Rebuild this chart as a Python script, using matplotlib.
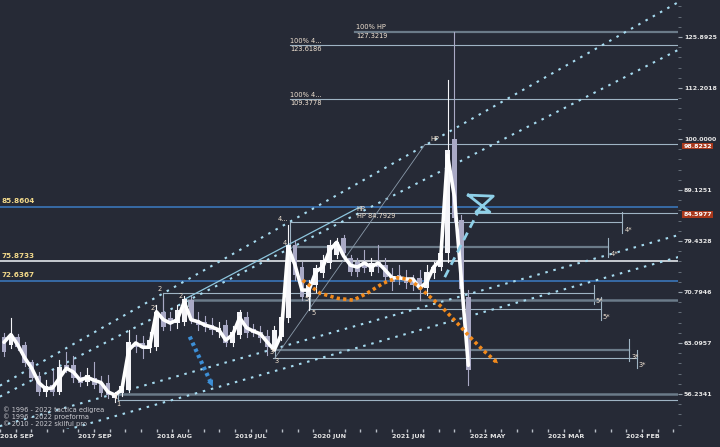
import numpy as np
import matplotlib.pyplot as plt
from matplotlib.ticker import FixedLocator, NullFormatter
from matplotlib.transforms import blended_transform_factory

# monthly bars, 2016 sep .. 2022 apr (index = bar number)
opens = [64.0, 62.8, 64.0, 62.8, 60.5, 58.6, 56.5, 57.4, 56.5, 60.0,
         60.0, 58.4, 57.8, 58.3, 57.7, 57.7, 55.7, 56.4, 56.8, 63.1,
         63.1, 62.4, 62.5, 67.7, 66.8, 66.0, 66.2, 69.5, 66.5, 66.2,
         65.7, 64.7, 65.7, 63.1, 64.3, 66.9, 65.1, 64.7, 64.1, 62.5,
         64.0, 66.8, 78.7, 74.9, 70.0, 71.9, 73.9, 75.6, 77.0, 80.0,
         76.4, 75.7, 75.7, 74.1, 75.7, 75.2, 73.1, 73.6, 73.1, 72.7,
         73.1, 71.4, 73.9, 74.9, 77.3, 100.0, 83.3, 70.0]
closes = [61.8, 64.4, 62.5, 60.3, 58.3, 56.5, 57.3, 56.5, 59.8, 59.6,
          58.3, 57.7, 58.7, 57.4, 56.4, 56.1, 56.2, 57.3, 63.2, 62.5,
          62.4, 63.5, 67.7, 65.4, 65.9, 68.0, 69.7, 66.5, 65.7, 65.4,
          65.0, 65.3, 63.1, 64.7, 67.7, 64.5, 64.5, 63.8, 62.5, 65.0,
          66.9, 78.7, 73.6, 70.0, 71.9, 74.7, 76.1, 78.7, 79.2, 77.3,
          74.1, 74.1, 74.7, 75.6, 74.9, 73.2, 72.4, 73.1, 72.2, 71.9,
          71.6, 74.1, 74.9, 77.3, 97.6, 83.7, 71.3, 59.4]
highs = [64.5, 66.8, 64.4, 63.2, 60.7, 59.1, 58.0, 59.4, 60.7, 61.8,
         61.3, 59.1, 59.6, 60.5, 58.6, 58.7, 56.5, 58.0, 65.0, 64.3,
         64.1, 64.7, 68.7, 69.8, 67.7, 68.7, 70.2, 70.2, 67.7, 67.1,
         66.8, 66.2, 66.5, 65.6, 68.0, 67.7, 65.9, 65.6, 65.0, 65.6,
         67.4, 82.4, 79.6, 75.7, 72.7, 75.2, 77.0, 79.6, 80.0, 80.5,
         77.0, 76.4, 77.8, 76.4, 78.7, 76.4, 74.7, 75.2, 74.4, 73.6,
         74.4, 75.2, 75.7, 77.8, 114.2, 127.3, 84.2, 71.1]
lows = [61.3, 62.4, 62.1, 59.9, 58.0, 56.1, 56.0, 56.1, 56.2, 59.1,
        57.8, 57.3, 57.4, 57.0, 56.0, 55.7, 55.2, 56.0, 56.5, 61.8,
        61.0, 61.8, 62.1, 65.0, 65.0, 65.3, 65.7, 66.0, 65.0, 64.8,
        64.4, 64.0, 62.7, 62.7, 63.8, 64.0, 64.1, 63.2, 61.4, 62.1,
        63.5, 66.2, 72.7, 69.5, 68.0, 70.8, 73.2, 74.7, 76.4, 76.8,
        73.6, 73.4, 74.1, 73.6, 74.1, 72.4, 71.1, 72.1, 71.4, 71.1,
        69.5, 70.3, 73.1, 74.4, 75.7, 82.9, 70.8, 57.4]
# white smoothed line
ma_line = [63.2, 64.3, 62.8, 61.0, 59.6, 57.7, 56.9, 57.0, 58.3, 59.6,
           59.1, 58.0, 58.4, 58.0, 57.7, 56.5, 56.1, 56.8, 62.1, 63.1,
           62.5, 62.5, 67.7, 66.5, 66.0, 66.5, 69.2, 66.5, 66.2, 65.7,
           65.4, 65.0, 63.5, 64.3, 66.8, 65.3, 64.8, 64.4, 63.2, 62.1,
           64.3, 78.4, 75.2, 71.1, 71.1, 74.1, 74.9, 77.8, 79.2, 76.8,
           75.2, 74.9, 75.6, 74.9, 75.6, 74.4, 73.1, 73.1, 72.9, 72.9,
           71.4, 72.4, 74.9, 76.1, 96.4, 87.7, 72.7, 60.0]

price_ticks = [56.2341, 63.0957, 70.7946, 79.4328, 89.1251, 100.0, 112.2018, 125.8925]
date_labels = ["2016 SEP", "2017 SEP", "2018 AUG", "2019 JUL", "2020 JUN",
               "2021 JUN", "2022 MAY", "2023 MAR", "2024 FEB"]

# drawn levels
full_blue = [85.8604, 72.6367]
full_white = [75.8733]
hp_levels = [127.3219, 123.6186, 109.3778, 98.8232, 84.5977]
hp_starts = [50.65, 41.3, 41.3, 60.75, 50.9]
wave_levels = [82.9, 78.4, 70.6, 68.1, 62.1, 61.0]
wave_starts = [41.3, 41.7, 22.9, 44.2, 39.4, 38.8]
wave_ends = [89.2, 87.2, 85.1, 86.1, 90.2, 91.3]
wave_marks = ["4*", "4*", "5*", "5*", "3*", "3*"]
wave_tick_top = [84.8, 80.0, 71.9, 70.0, 63.6, 62.1]
wave_tick_bot = [80.9, 76.6, 68.9, 66.5, 60.6, 59.6]
base_levels = [69.5, 56.2341, 55.5]
base_starts = [26.6, 16.5, 16.5]

channel_x = [-0.6, 97.3]
channels = [(57.3, 136.2), (55.9, 122.3), (52.3, 80.5), (49.7, 76.6)]

wave_text = ["4...", "4", "2", "2", "2'", "5", "5", "3'", "3", "1", "1"]
wave_tx = [40.3, 40.5, 22.5, 25.5, 21.6, 43.6, 44.6, 38.7, 39.4, 16.0, 16.5]
wave_ty = [83.5, 79.1, 71.3, 70.2, 68.3, 69.7, 67.5, 61.8, 60.6, 55.8, 55.0]

orange_x = [43.1, 45.6, 48.1, 50.4, 52.4, 54.7, 56.7, 58.2, 59.6, 61.5, 63.3, 65.4, 67.2, 69.1, 71.0]
orange_y = [72.7, 70.6, 69.8, 69.5, 70.6, 72.2, 73.1, 72.9, 71.9, 70.0, 68.3, 66.0, 64.0, 62.1, 60.5]
blue_arrow_x = [26.8, 30.0]
blue_arrow_y = [64.0, 57.4]
cyan_x = [63.6, 68.7]
cyan_y = [73.2, 85.6]
glass_x = [67.0, 70.6, 68.1, 70.1, 67.0]
glass_y = [88.1, 87.9, 84.8, 84.8, 88.1]

bg = '#262a36'
fig = plt.figure(figsize=(7.2, 4.47), dpi=100, facecolor=bg)
ax = fig.add_axes([0, 18 / 447, 678 / 720, 429 / 447], facecolor=bg)
ax.set_yscale('log')
x0, x1 = -0.58, 97.26
ax.set_xlim(x0, x1)
ax.set_ylim(51.96, 136.87)
for s in ax.spines.values():
    s.set_visible(False)

thin = '#9fb4c4'
thick = '#6b7b89'

# channel lines
for a, b in channels:
    ax.plot(channel_x, [a, b], color='#a6dbf0', lw=1.5, ls=(0, (1.2, 2.8)), zorder=2)

# horizontal levels
for v in full_blue:
    ax.axhline(v, color='#3b7cc4', lw=1.1, zorder=1)
for v in full_white:
    ax.axhline(v, color='#f2f6fa', lw=1.1, zorder=1)
for v, s in zip(hp_levels, hp_starts):
    c, w = (thick, 1.6) if v > 125 else (thin, 0.8)
    ax.plot([s, x1], [v, v], color=c, lw=w, zorder=1)
for v, s, e, t, b in zip(wave_levels, wave_starts, wave_ends, wave_tick_top, wave_tick_bot):
    c, w = (thick, 1.6) if v in (78.4, 62.1) else (thin, 0.8)
    ax.plot([s, e], [v, v], color=c, lw=w, zorder=1)
    ax.plot([e, e], [t, b], color=thin, lw=0.8, zorder=1)
for v, s in zip(base_levels, base_starts):
    c, w = (thin, 0.8) if v == 55.5 else (thick, 1.8)
    ax.plot([s, x1], [v, v], color=c, lw=w, zorder=1)
for m, e, v in zip(wave_marks, wave_ends, wave_levels):
    ax.text(e + 0.3, v * 0.99, m, color='#f0e2d2', fontsize=4.8, ha='left', va='top', zorder=6)

# little connectors at wave points
ax.plot([41.3, 41.3], [82.9, 78.4], color=thin, lw=0.8)
ax.plot([22.9, 22.9], [70.6, 67.7], color=thin, lw=0.8)
ax.plot([26.6, 26.6], [69.5, 68.6], color=thin, lw=0.8)
ax.plot([44.2, 44.2], [70.8, 68.1], color=thin, lw=0.8)
ax.plot([39.1, 39.1], [62.1, 61.0], color=thin, lw=0.8)
ax.plot([16.5, 16.5], [56.23, 55.5], color=thin, lw=0.8)

# fan lines
ax.plot([25.8, 51.4], [69.5, 85.8], color='#8ec6de', lw=0.9, zorder=2)
ax.plot([39.1, 60.75], [61.0, 98.8], color='#8a9aaa', lw=0.6, zorder=2)

# candles
idx = np.arange(len(opens))
for i in idx:
    o, c, h, l = opens[i], closes[i], highs[i], lows[i]
    col = '#f4f4f8' if c >= o else '#a9a9c5'
    ax.plot([i, i], [l, h], color=col, lw=0.8, zorder=3)
    ax.bar(i, abs(c - o), bottom=min(o, c), width=0.7, color=col, lw=0, zorder=3)

ax.plot(idx, ma_line, color='white', lw=2.6, solid_joinstyle='round', solid_capstyle='round', zorder=4)

# hand drawn marks
ax.plot(orange_x, orange_y, color='#f28a1c', lw=2.6, ls=(0, (0.9, 0.9)), zorder=5)
ax.annotate('', xy=(orange_x[-1] + 0.6, orange_y[-1] * 0.992), xytext=(orange_x[-2], orange_y[-2]),
            arrowprops=dict(arrowstyle='-|>', color='#f28a1c', lw=0, mutation_scale=9), zorder=5)
ax.plot(blue_arrow_x, blue_arrow_y, color='#3d8fd6', lw=3, ls=(0, (0.8, 0.8)), zorder=5)
ax.annotate('', xy=(blue_arrow_x[1] + 0.3, blue_arrow_y[1] * 0.99), xytext=(blue_arrow_x[0], blue_arrow_y[0]),
            arrowprops=dict(arrowstyle='-|>', color='#3d8fd6', lw=0, mutation_scale=12), zorder=5)
ax.plot(cyan_x, cyan_y, color='#8ed0e8', lw=2, ls=(0, (3, 2)), zorder=5)
ax.plot(glass_x, glass_y, color='#8ed0e8', lw=2, solid_joinstyle='round', zorder=5)

# text labels
lab = dict(color='#f0e2d2', fontsize=4.8, zorder=6)
for t, x, y in zip(wave_text, wave_tx, wave_ty):
    ax.text(x, y, t, ha='center', va='center', **lab)
ax.text(61.5, 100.0, 'HP', ha='left', va='center', **lab)
ax.text(50.9, 85.4, 'HP', ha='left', va='center', **lab)
ax.text(50.9, 84.1, 'HP 84.7929', ha='left', va='center', **lab)
ax.text(50.8, 128.8, '100% HP', ha='left', va='center', **lab)
ax.text(50.8, 126.2, '127.3219', ha='left', va='center', **lab)
ax.text(41.3, 124.8, '100% 4...', ha='left', va='center', **lab)
ax.text(41.3, 122.6, '123.6186', ha='left', va='center', **lab)
ax.text(41.3, 110.4, '100% 4...', ha='left', va='center', **lab)
ax.text(41.3, 108.5, '109.3778', ha='left', va='center', **lab)

trans = blended_transform_factory(ax.transAxes, ax.transData)
for v in [85.8604, 75.8733, 72.6367]:
    ax.text(0.002, v * 1.006, f'{v:.4f}', transform=trans, color='#f2d98a', fontsize=5.2,
            fontweight='bold', ha='left', va='bottom')
for v in [98.8232, 84.5977]:
    ax.text(1.008, v * 0.996, f'{v:.4f}', transform=trans, color='white', fontsize=4.5, fontweight='bold',
            ha='left', va='center', clip_on=False,
            bbox=dict(boxstyle='square,pad=0.15', fc='#a8381c', ec='none'))

cp = dict(transform=ax.transAxes, color='#c9c9cf', fontsize=4.8, ha='left', va='center')
ax.text(0.004, 0.044, '© 1996 - 2022 tactica edigrea', **cp)
ax.text(0.004, 0.028, '© 1996 - 2022 proeforma', **cp)
ax.text(0.004, 0.012, '© 2010 - 2022 skilful pro', **cp)

# axes
ax.yaxis.tick_right()
ax.yaxis.set_major_locator(FixedLocator(price_ticks))
ax.yaxis.set_major_formatter(plt.FuncFormatter(lambda v, p: f'{v:.4f}'))
ax.yaxis.set_minor_locator(FixedLocator(10 ** np.arange(1.72, 2.14, 0.01)))
ax.yaxis.set_minor_formatter(NullFormatter())
ax.tick_params(axis='y', which='major', colors='#9aa4ae', length=3, width=0.8, pad=1.2,
               labelsize=4.5, labelcolor='#e6e6e6')
ax.tick_params(axis='y', which='minor', colors='#6f7984', length=2, width=0.6)
for t in ax.get_yticklabels():
    t.set_fontweight('bold')

ticks = np.arange(x0, x1, 2.26)
ax.xaxis.set_major_locator(FixedLocator(ticks[::5]))
ax.xaxis.set_minor_locator(FixedLocator(ticks))
ax.set_xticklabels(date_labels)
ax.tick_params(axis='x', which='both', colors='#b8bec6', length=2, width=1, pad=1.5,
               labelsize=4.6, labelcolor='#e6e6e6')
for t in ax.get_xticklabels():
    t.set_fontweight('bold')
    t.set_horizontalalignment('left')

fig.savefig('out.png', dpi=100, facecolor=bg)
